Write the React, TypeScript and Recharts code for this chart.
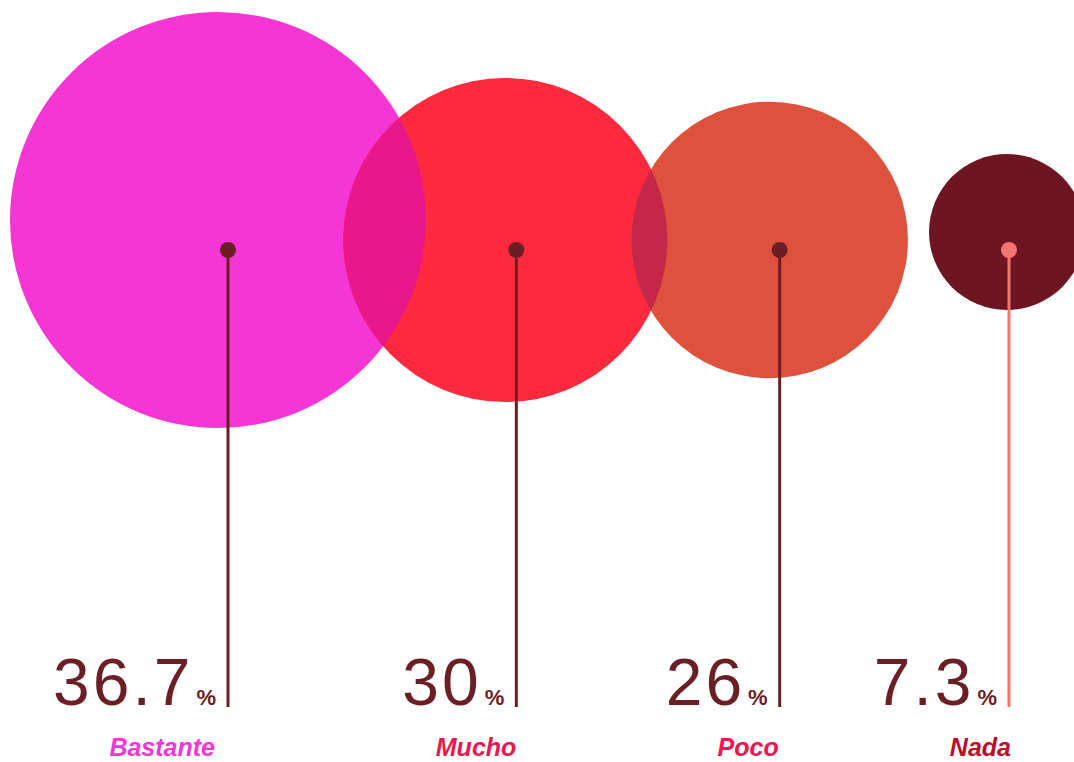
import React from 'react';
import { ScatterChart, Scatter, XAxis, YAxis, ZAxis } from 'recharts';

// ---- data ----
const categories = ['Bastante', 'Mucho', 'Poco', 'Nada'];
const values = [36.7, 30, 26, 7.3];
const valueLabels = ['36.7', '30', '26', '7.3'];

// ---- styles ----
const bubbleColors = ['#F535D4', '#FC2A3C', '#DE513C', '#6E1522'];
const overlapColors = ['', '#E8188A', '#C5264A', ''];
const labelColors = ['#F535D4', '#EE1650', '#EE1650', '#C00C26'];
const stemColors = ['#6B1F24', '#6B1F24', '#6B1F24', '#F47570'];
const textColor = '#6B1F24';
const pinNudgeX = [0, 28, 31, 0];
const labelNudgeX = [-13, 0, -1, 2];
const bubbleOffset = [
  { dx: -10, dy: -30 },
  { dx: -11, dy: -10 },
  { dx: -10, dy: -10 },
  { dx: -2, dy: -18 },
];
const STEM = 457;
const FONT = '"Liberation Sans", Arial, sans-serif';

const data = categories.map((name, i) => ({ name, value: values[i], label: valueLabels[i] }));

const BubbleShape = (props: any) => {
  const { cx, cy, width, payload } = props;
  const i = categories.indexOf(payload.name);
  const r = width / 2;
  const x = cx + pinNudgeX[i] + bubbleOffset[i].dx;
  const y = cy + bubbleOffset[i].dy;
  return (
    <g>
      <defs>
        <clipPath id={`bubble-clip-${i}`}>
          <circle cx={x} cy={y} r={r} />
        </clipPath>
      </defs>
      <circle cx={x} cy={y} r={r} fill={bubbleColors[i]} />
      {overlapColors[i] ? (
        <circle cx={x} cy={y} r={r} fill={overlapColors[i]} clipPath={`url(#bubble-clip-${i - 1})`} />
      ) : null}
    </g>
  );
};

const PinShape = (props: any) => {
  const { cx, cy, payload } = props;
  const i = categories.indexOf(payload.name);
  const x = cx + pinNudgeX[i];
  return (
    <g>
      <line x1={x} y1={cy} x2={x} y2={cy + STEM} stroke={stemColors[i]} strokeWidth={3} />
      <circle cx={x} cy={cy} r={8} fill={stemColors[i]} />
      <text x={x - 12} y={cy + STEM - 2} textAnchor="end" fill={textColor} fontFamily={FONT}>
        <tspan fontSize={66} letterSpacing={3}>{payload.label}</tspan>
        <tspan fontSize={22} dx={3} fontWeight={600}>%</tspan>
      </text>
      <text
        x={x + labelNudgeX[i]}
        y={cy + 506}
        textAnchor="end"
        fill={labelColors[i]}
        fontFamily={FONT}
        fontSize={25}
        fontWeight="bold"
        fontStyle="italic"
      >
        {payload.name}
      </text>
    </g>
  );
};

export default function App() {
  return (
    <div style={{ position: 'absolute', left: 0, top: 0, background: '#fff' }}>
      <ScatterChart width={1074} height={762} margin={{ top: 0, right: 0, bottom: 512, left: 0 }}>
        <XAxis dataKey="name" type="category" scale="point" padding={{ left: 228, right: 65 }} hide allowDuplicatedCategory={false} />
        <YAxis type="number" dataKey={() => 0} domain={[0, 1]} hide />
        <ZAxis type="number" dataKey={(d: any) => d.value * d.value * d.value} domain={['dataMin', 'dataMax']} range={[19113, 135918]} />
        <Scatter data={data} shape={BubbleShape} isAnimationActive={false} />
        <Scatter data={data} shape={PinShape} isAnimationActive={false} />
      </ScatterChart>
    </div>
  );
}
